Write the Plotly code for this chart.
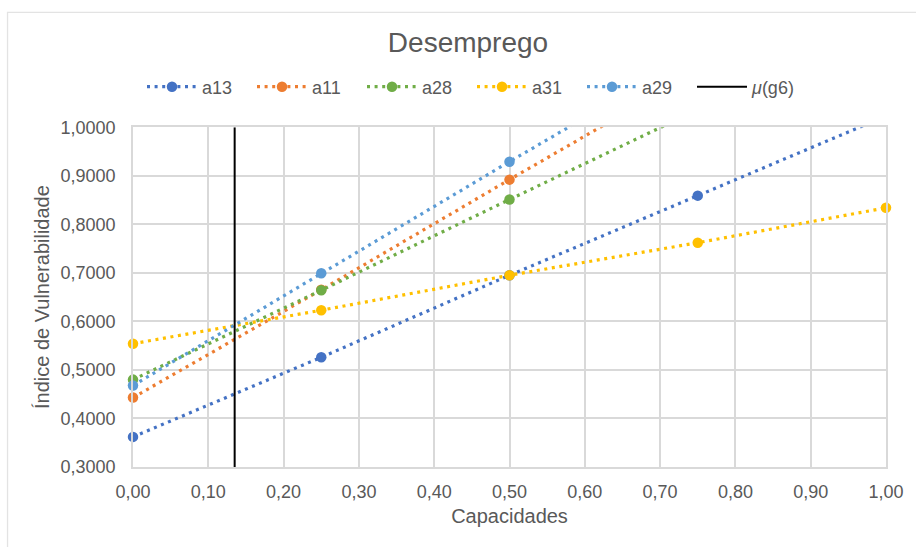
import plotly.graph_objects as go

# Capacity levels (x) and vulnerability index of each alternative (y)
capacidades = [0.00, 0.25, 0.50, 0.75, 1.00]
a13 = [0.362, 0.526, 0.695, 0.859, 1.023]
a11 = [0.443, 0.665, 0.892, 1.116, 1.340]
a28 = [0.480, 0.664, 0.851, 1.036, 1.221]
a31 = [0.554, 0.623, 0.695, 0.762, 0.834]
a29 = [0.468, 0.699, 0.929, 1.155, 1.385]

# Mean of group g6 on the capacity axis
mu_g6 = 0.135

series = [
    ("a13", a13, "#4472C4"),
    ("a11", a11, "#ED7D31"),
    ("a28", a28, "#70AD47"),
    ("a31", a31, "#FFC000"),
    ("a29", a29, "#5B9BD5"),
]

Y_MIN, Y_MAX = 0.3, 1.0
FONT = "Liberation Sans, Arial, sans-serif"
GREY = "#595959"
GRID = "#d9d9d9"

fig = go.Figure()

for name, values, color in series:
    # markers above the top of the axis are made transparent; the line is clipped
    colors = [color if v <= Y_MAX else "rgba(0,0,0,0)" for v in values]
    fig.add_trace(go.Scatter(
        x=capacidades, y=values, name=name,
        mode="lines+markers",
        line=dict(color=color, width=3.2, dash="3px,4.6px"),
        marker=dict(color=colors, size=10.5, opacity=1, line=dict(width=0)),
        cliponaxis=False,
    ))

fig.add_trace(go.Scatter(
    x=[mu_g6, mu_g6], y=[Y_MIN, Y_MAX], name="<i>μ</i>(g6)",
    mode="lines", line=dict(color="black", width=2),
))

fig.update_layout(
    width=916, height=547,
    margin=dict(l=133, r=29, t=125, b=80),
    paper_bgcolor="white", plot_bgcolor="white",
    separators=", ",
    font=dict(family=FONT, color=GREY, size=18),
    title=dict(text="Desemprego", font=dict(size=28, color=GREY, family=FONT),
               x=468 / 916, xanchor="center", xref="container",
               y=1 - 42 / 547, yanchor="middle", yref="container"),
    legend=dict(orientation="h", xref="container", yref="container",
                x=142 / 916, xanchor="left", y=1 - 87 / 547, yanchor="middle",
                font=dict(size=18, color=GREY, family=FONT),
                itemwidth=50, entrywidth=45, entrywidthmode="pixels",
                traceorder="normal", bgcolor="rgba(0,0,0,0)"),
    showlegend=True,
)

fig.update_xaxes(
    range=[0, 1], dtick=0.1, tick0=0, tickformat=".2f",
    showgrid=True, gridcolor=GRID, gridwidth=1.5,
    showline=True, linecolor=GRID, linewidth=1.5, mirror=True,
    zeroline=False, ticks="", ticklabelstandoff=8,
    tickfont=dict(size=18, color=GREY, family=FONT),
    title=dict(text="Capacidades", font=dict(size=20, color=GREY, family=FONT), standoff=8),
)
fig.update_yaxes(
    range=[Y_MIN, Y_MAX], dtick=0.1, tick0=0, tickformat=".4f",
    showgrid=True, gridcolor=GRID, gridwidth=1.5,
    showline=True, linecolor=GRID, linewidth=1.5, mirror=True,
    zeroline=False, ticks="", ticklabelstandoff=12,
    tickfont=dict(size=18, color=GREY, family=FONT),
    title=dict(text="Índice de Vulnerabilidade", font=dict(size=20, color=GREY, family=FONT), standoff=6),
)

# chart-area frame
fig.add_shape(type="rect", xref="paper", yref="paper",
              x0=-0.1666, x1=1.3, y0=-0.6, y1=1.3377,
              line=dict(color="#e3e3e3", width=1.3), layer="below")

fig.write_html("out.html")
